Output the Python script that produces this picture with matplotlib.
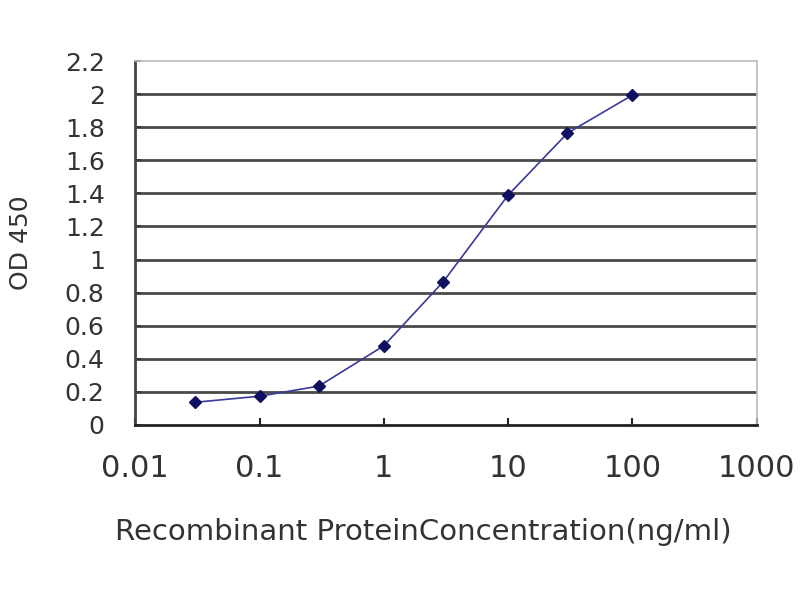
import matplotlib
matplotlib.use("Agg")
import matplotlib.pyplot as plt

# concentration (ng/ml) and OD450 readings
conc = [0.03, 0.1, 0.3, 1, 3, 10, 30, 100]
od450 = [0.136, 0.173, 0.234, 0.478, 0.865, 1.39, 1.765, 1.995]

xticks = [0.01, 0.1, 1, 10, 100, 1000]
xtick_labels = ["0.01", "0.1", "1", "10", "100", "1000"]
yticks = [0, 0.2, 0.4, 0.6, 0.8, 1, 1.2, 1.4, 1.6, 1.8, 2, 2.2]
ytick_labels = ["0", "0.2", "0.4", "0.6", "0.8", "1", "1.2", "1.4", "1.6", "1.8", "2", "2.2"]

plt.rcParams["font.family"] = ["DejaVu Sans"]

fig = plt.figure(figsize=(8, 6), dpi=100)
ax = fig.add_axes([0.169, 0.292, 0.777, 0.606])

ax.set_xscale("log")
ax.set_xlim(0.01, 1000)
ax.set_ylim(0, 2.2)

# horizontal gridlines
for y in yticks[1:-1]:
    ax.axhline(y, color="#4a4a4a", lw=2.0, zorder=1)

ax.plot(conc, od450, color="#3a3a9a", lw=1.2, zorder=3)
ax.plot(conc, od450, ls="none", marker="D", ms=6.5, color="#101060", zorder=4)

ax.set_xticks(xticks)
ax.set_xticklabels(xtick_labels)
ax.minorticks_off()
ax.set_yticks(yticks)
ax.set_yticklabels(ytick_labels)

ax.tick_params(axis="x", direction="in", length=5, width=1.5, color="#222222",
               labelsize=22, labelcolor="#333333", pad=21)
ax.tick_params(axis="y", direction="in", length=4, width=1.2, color="#333333",
               labelsize=18, labelcolor="#333333", pad=22)

for s in ["top", "right"]:
    ax.spines[s].set_color("#bbbbbb")
    ax.spines[s].set_linewidth(1.2)
ax.spines["bottom"].set_color("#222222")
ax.spines["bottom"].set_linewidth(2)
ax.spines["left"].set_color("#444444")
ax.spines["left"].set_linewidth(2)

ax.set_xlabel("Recombinant ProteinConcentration(ng/ml)", fontsize=21,
              color="#333333")
ax.xaxis.set_label_coords(0.463, -0.255)
ax.set_ylabel("OD 450", fontsize=18, color="#333333")
ax.yaxis.set_label_coords(-0.165, 0.5)

fig.savefig("out.png", dpi=100)
